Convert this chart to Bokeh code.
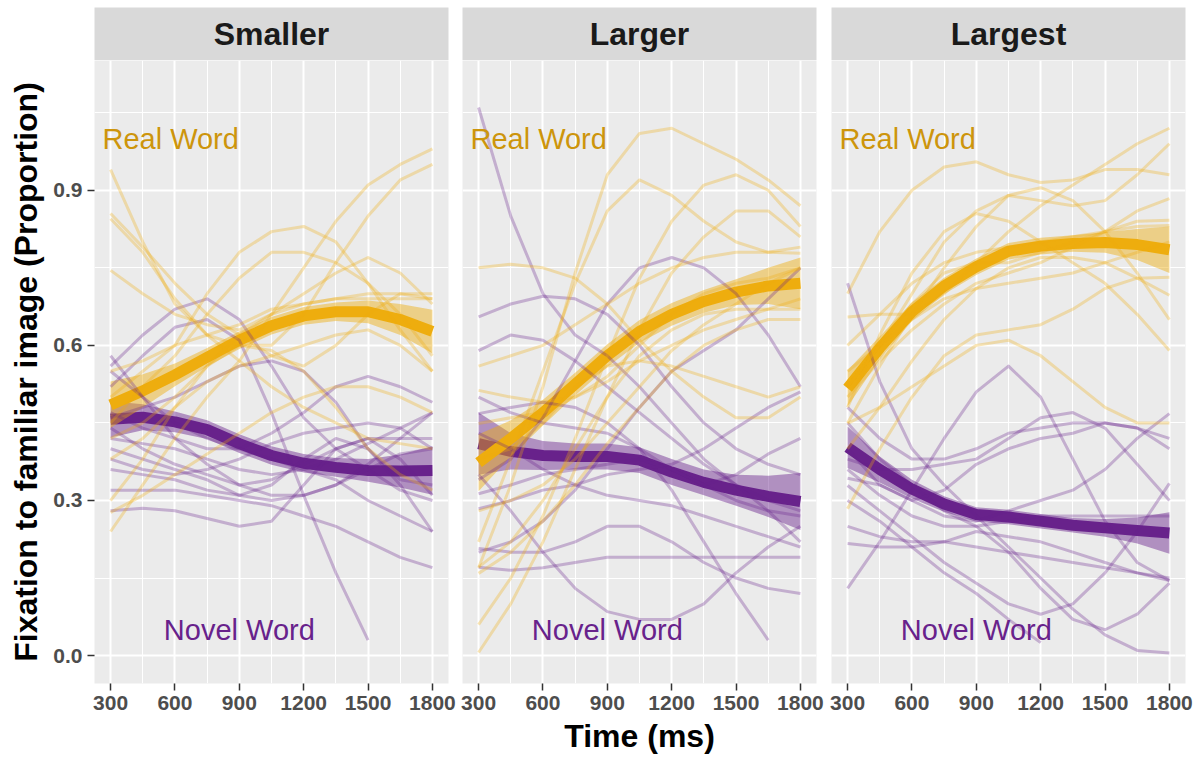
import math
from bokeh.plotting import figure
from bokeh.models import Range1d, FixedTicker, PrintfTickFormatter
from bokeh.layouts import row, column
from bokeh.embed import file_html
from bokeh.resources import INLINE
from bokeh.core.properties import value

NaN = float("nan")

# ---------------- data ----------------
time_ms = [300, 450, 600, 750, 900, 1050, 1200, 1350, 1500, 1650, 1800]
panel_titles = ["Smaller", "Larger", "Largest"]
x_ticks = [300, 600, 900, 1200, 1500, 1800]
y_ticks = [0.0, 0.3, 0.6, 0.9]

# group means (smooth) and ribbon half-widths
real_mean_smaller = [0.485, 0.512, 0.543, 0.577, 0.610, 0.638, 0.657, 0.665, 0.665, 0.650, 0.627]
real_ci_smaller = [0.045, 0.032, 0.022, 0.018, 0.017, 0.017, 0.017, 0.018, 0.022, 0.030, 0.042]
novel_mean_smaller = [0.457, 0.461, 0.452, 0.437, 0.410, 0.387, 0.372, 0.364, 0.358, 0.357, 0.358]
novel_ci_smaller = [0.035, 0.025, 0.020, 0.018, 0.018, 0.018, 0.018, 0.018, 0.022, 0.032, 0.047]

real_mean_larger = [0.373, 0.420, 0.470, 0.525, 0.580, 0.627, 0.660, 0.685, 0.703, 0.715, 0.720]
real_ci_larger = [0.055, 0.035, 0.025, 0.022, 0.022, 0.022, 0.022, 0.022, 0.025, 0.035, 0.050]
novel_mean_larger = [0.410, 0.395, 0.387, 0.385, 0.385, 0.378, 0.355, 0.335, 0.320, 0.308, 0.298]
novel_ci_larger = [0.060, 0.035, 0.028, 0.025, 0.025, 0.025, 0.025, 0.025, 0.030, 0.040, 0.055]

real_mean_largest = [0.517, 0.595, 0.665, 0.715, 0.752, 0.782, 0.792, 0.797, 0.799, 0.795, 0.785]
real_ci_largest = [0.035, 0.022, 0.018, 0.016, 0.016, 0.016, 0.016, 0.016, 0.020, 0.030, 0.045]
novel_mean_largest = [0.403, 0.360, 0.322, 0.293, 0.273, 0.268, 0.260, 0.252, 0.247, 0.242, 0.237]
novel_ci_largest = [0.040, 0.025, 0.018, 0.015, 0.014, 0.014, 0.014, 0.014, 0.017, 0.025, 0.040]

# individual participants
real_subjects_smaller = [
    [0.94, 0.80, 0.68, 0.62, 0.60, 0.60, 0.66, 0.76, 0.85, 0.92, 0.95],
    [0.855, 0.79, 0.72, 0.66, 0.62, 0.58, 0.56, 0.60, 0.66, 0.70, 0.69],
    [0.845, 0.78, 0.69, 0.62, 0.57, 0.52, 0.48, 0.45, 0.42, 0.41, 0.40],
    [0.745, 0.70, 0.66, 0.64, 0.63, 0.66, 0.70, 0.74, 0.77, 0.74, 0.68],
    [0.50, 0.55, 0.60, 0.70, 0.78, 0.82, 0.83, 0.80, 0.72, 0.63, 0.55],
    [0.45, 0.52, 0.58, 0.66, 0.73, 0.78, 0.78, 0.76, 0.72, 0.66, 0.58],
    [0.30, 0.38, 0.48, 0.56, 0.62, 0.66, 0.68, 0.69, 0.70, 0.70, 0.70],
    [0.24, 0.33, 0.42, 0.50, 0.57, 0.66, 0.75, 0.84, 0.91, 0.95, 0.98],
    [0.277, 0.31, 0.35, 0.39, 0.43, 0.47, 0.50, 0.52, 0.52, 0.50, 0.47],
    [0.42, 0.45, 0.50, 0.56, 0.60, 0.59, 0.55, 0.48, 0.40, 0.35, 0.32],
    [0.38, 0.42, 0.48, 0.53, 0.56, 0.58, 0.60, 0.62, 0.63, 0.60, 0.55],
    [0.55, 0.57, 0.60, 0.62, 0.64, 0.67, 0.68, 0.69, 0.69, 0.69, 0.69],
]
novel_subjects_smaller = [
    [0.58, 0.50, 0.42, 0.37, 0.33, 0.31, 0.31, 0.33, 0.37, 0.42, 0.47],
    [0.56, 0.62, 0.67, 0.69, 0.65, 0.56, 0.46, 0.40, 0.36, 0.32, 0.30],
    [0.52, 0.58, 0.635, 0.65, 0.61, 0.47, 0.31, 0.16, 0.03, NaN, NaN],
    [0.47, 0.44, 0.42, 0.40, 0.40, 0.43, 0.47, 0.52, 0.54, 0.52, 0.49],
    [0.44, 0.40, 0.37, 0.35, 0.33, 0.34, 0.37, 0.40, 0.42, 0.42, 0.42],
    [0.42, 0.41, 0.40, 0.38, 0.36, 0.35, 0.36, 0.38, 0.41, 0.44, 0.47],
    [0.40, 0.38, 0.36, 0.34, 0.31, 0.30, 0.31, 0.33, 0.36, 0.39, 0.40],
    [0.36, 0.35, 0.34, 0.32, 0.31, 0.33, 0.38, 0.42, 0.40, 0.33, 0.24],
    [0.32, 0.32, 0.32, 0.31, 0.30, 0.29, 0.27, 0.25, 0.22, 0.19, 0.17],
    [0.28, 0.285, 0.28, 0.265, 0.25, 0.26, 0.33, 0.40, 0.42, 0.38, 0.31],
    [0.55, 0.50, 0.45, 0.42, 0.40, 0.38, 0.36, 0.34, 0.30, 0.27, 0.24],
    [0.46, 0.48, 0.50, 0.53, 0.56, 0.57, 0.55, 0.49, 0.40, 0.34, 0.33],
    [0.38, 0.36, 0.35, 0.36, 0.38, 0.41, 0.43, 0.44, 0.45, 0.44, 0.40],
]

real_subjects_larger = [
    [0.75, 0.757, 0.75, 0.73, 0.68, 0.61, 0.55, 0.50, 0.46, 0.46, 0.50],
    [0.17, 0.33, 0.52, 0.74, 0.93, 1.01, 1.02, 0.99, 0.96, 0.92, 0.87],
    [0.22, 0.38, 0.55, 0.72, 0.86, 0.92, 0.89, 0.84, 0.80, 0.78, 0.778],
    [0.06, 0.15, 0.27, 0.42, 0.58, 0.73, 0.84, 0.91, 0.93, 0.90, 0.83],
    [0.006, 0.10, 0.22, 0.36, 0.50, 0.63, 0.74, 0.81, 0.86, 0.86, 0.81],
    [0.56, 0.58, 0.60, 0.64, 0.68, 0.72, 0.75, 0.77, 0.78, 0.78, 0.79],
    [0.513, 0.50, 0.49, 0.50, 0.54, 0.60, 0.66, 0.70, 0.72, 0.73, 0.75],
    [0.449, 0.46, 0.47, 0.50, 0.53, 0.57, 0.60, 0.63, 0.65, 0.67, 0.69],
    [0.171, 0.22, 0.30, 0.40, 0.50, 0.58, 0.63, 0.66, 0.67, 0.67, 0.67],
    [0.159, 0.20, 0.26, 0.33, 0.41, 0.48, 0.55, 0.60, 0.63, 0.65, 0.65],
    [0.38, 0.40, 0.45, 0.52, 0.56, 0.57, 0.56, 0.54, 0.52, 0.50, 0.52],
    [0.28, 0.30, 0.33, 0.38, 0.45, 0.52, 0.59, 0.64, 0.68, 0.72, 0.75],
]
novel_subjects_larger = [
    [1.06, 0.85, 0.70, 0.62, 0.58, 0.52, 0.45, 0.38, 0.33, 0.30, 0.28],
    [0.655, 0.68, 0.695, 0.69, 0.66, 0.60, 0.52, 0.45, 0.40, 0.37, 0.35],
    [0.59, 0.62, 0.61, 0.57, 0.52, 0.47, 0.42, 0.37, 0.33, 0.28, 0.22],
    [0.34, 0.38, 0.46, 0.57, 0.68, 0.75, 0.77, 0.75, 0.70, 0.62, 0.52],
    [0.20, 0.22, 0.26, 0.32, 0.40, 0.48, 0.55, 0.59, 0.63, 0.69, 0.75],
    [0.35, 0.28, 0.20, 0.13, 0.085, 0.07, 0.07, 0.10, 0.16, 0.21, 0.25],
    [0.468, 0.48, 0.49, 0.48, 0.45, 0.40, 0.32, 0.22, 0.12, 0.03, NaN],
    [0.313, 0.33, 0.35, 0.36, 0.37, 0.38, 0.36, 0.33, 0.30, 0.28, 0.27],
    [0.284, 0.30, 0.32, 0.33, 0.35, 0.36, 0.37, 0.40, 0.44, 0.48, 0.51],
    [0.207, 0.20, 0.20, 0.22, 0.25, 0.25, 0.22, 0.18, 0.15, 0.13, 0.12],
    [0.171, 0.165, 0.17, 0.18, 0.19, 0.19, 0.19, 0.19, 0.19, 0.19, 0.19],
    [0.43, 0.40, 0.36, 0.33, 0.31, 0.30, 0.29, 0.27, 0.25, 0.23, 0.21],
    [0.50, 0.47, 0.45, 0.44, 0.43, 0.40, 0.36, 0.33, 0.35, 0.39, 0.42],
]

real_subjects_largest = [
    [0.70, 0.82, 0.90, 0.945, 0.955, 0.93, 0.915, 0.92, 0.94, 0.94, 0.93],
    [0.655, 0.66, 0.66, 0.70, 0.76, 0.82, 0.87, 0.91, 0.95, 0.99, 1.02],
    [0.52, 0.60, 0.70, 0.80, 0.86, 0.89, 0.88, 0.87, 0.88, 0.93, 0.99],
    [0.48, 0.62, 0.74, 0.82, 0.855, 0.84, 0.80, 0.76, 0.72, 0.66, 0.59],
    [0.45, 0.56, 0.66, 0.75, 0.83, 0.89, 0.905, 0.88, 0.82, 0.74, 0.65],
    [0.52, 0.60, 0.68, 0.74, 0.76, 0.76, 0.78, 0.80, 0.82, 0.84, 0.842],
    [0.50, 0.57, 0.63, 0.68, 0.72, 0.74, 0.76, 0.79, 0.82, 0.86, 0.884],
    [0.55, 0.60, 0.65, 0.69, 0.71, 0.72, 0.73, 0.74, 0.76, 0.78, 0.80],
    [0.284, 0.40, 0.50, 0.58, 0.62, 0.63, 0.64, 0.67, 0.71, 0.73, 0.732],
    [0.449, 0.48, 0.52, 0.56, 0.60, 0.61, 0.58, 0.53, 0.48, 0.45, 0.45],
    [0.40, 0.48, 0.57, 0.65, 0.71, 0.75, 0.77, 0.77, 0.76, 0.73, 0.697],
    [0.60, 0.66, 0.72, 0.76, 0.78, 0.79, 0.80, 0.81, 0.82, 0.83, 0.832],
]
novel_subjects_largest = [
    [0.72, 0.53, 0.40, 0.33, 0.27, 0.21, 0.15, 0.09, 0.04, 0.01, 0.005],
    [0.13, 0.22, 0.32, 0.42, 0.51, 0.56, 0.50, 0.38, 0.26, 0.18, 0.145],
    [0.343, 0.33, 0.30, 0.27, 0.26, 0.28, 0.30, 0.32, 0.36, 0.42, 0.468],
    [0.329, 0.28, 0.23, 0.18, 0.14, 0.10, 0.08, 0.10, 0.16, 0.24, 0.333],
    [0.30, 0.26, 0.21, 0.16, 0.12, 0.07, 0.025, NaN, NaN, NaN, NaN],
    [0.217, 0.21, 0.21, 0.22, 0.24, 0.23, 0.22, 0.20, 0.18, 0.16, 0.145],
    [0.45, 0.38, 0.33, 0.28, 0.25, 0.20, 0.13, 0.07, 0.05, 0.08, 0.14],
    [0.48, 0.42, 0.38, 0.38, 0.40, 0.43, 0.44, 0.45, 0.45, 0.44, 0.42],
    [0.38, 0.36, 0.36, 0.37, 0.38, 0.42, 0.46, 0.47, 0.44, 0.37, 0.30],
    [0.40, 0.33, 0.30, 0.32, 0.37, 0.40, 0.42, 0.43, 0.45, 0.44, 0.40],
    [0.36, 0.31, 0.27, 0.25, 0.25, 0.26, 0.27, 0.27, 0.27, 0.27, 0.27],
    [0.25, 0.23, 0.22, 0.22, 0.21, 0.20, 0.19, 0.18, 0.17, 0.16, 0.15],
]

label_real = "Real Word"
label_novel = "Novel Word"
label_real_pos = (580, 1.0)
label_novel_pos = (900, 0.05)

# ---------------- styling ----------------
GOLD = "#EEAD0E"
GOLD_TXT = "#CD950C"
PURPLE = "#68228B"
PANEL_BG = "#EBEBEB"
STRIP_BG = "#D9D9D9"
FONT = "Liberation Sans"

FRAME_W = 354
FRAME_H = 623
STRIP_H = 53

panels_data = [
    (real_mean_smaller, real_ci_smaller, novel_mean_smaller, novel_ci_smaller,
     real_subjects_smaller, novel_subjects_smaller),
    (real_mean_larger, real_ci_larger, novel_mean_larger, novel_ci_larger,
     real_subjects_larger, novel_subjects_larger),
    (real_mean_largest, real_ci_largest, novel_mean_largest, novel_ci_largest,
     real_subjects_largest, novel_subjects_largest),
]

borders = [(94, 10), (4, 9), (6, 12)]

cols = []
for i, (title, pdata, (bl, br)) in enumerate(zip(panel_titles, panels_data, borders)):
    rm, rci, nm, nci, rsub, nsub = pdata

    # strip
    s = figure(frame_width=FRAME_W, frame_height=STRIP_H, x_range=Range1d(0, 1), y_range=Range1d(0, 1),
               x_axis_location=None, y_axis_location=None, toolbar_location=None,
               output_backend="svg", min_border_left=bl, min_border_right=br,
               min_border_top=7, min_border_bottom=0)
    s.background_fill_color = STRIP_BG
    s.border_fill_color = "white"
    s.outline_line_color = None
    s.grid.visible = False
    s.text(x=[0.5], y=[0.5], text=[title], text_align="center", text_baseline="middle",
           text_font=value(FONT), text_font_style="bold", text_font_size="32px", text_color="#1A1A1A")

    p = figure(frame_width=FRAME_W, frame_height=FRAME_H,
               x_range=Range1d(225, 1875), y_range=Range1d(-0.054, 1.151),
               y_axis_location="left" if i == 0 else None,
               toolbar_location=None, output_backend="svg",
               min_border_left=bl, min_border_right=br, min_border_top=0, min_border_bottom=72)
    p.background_fill_color = PANEL_BG
    p.border_fill_color = "white"
    p.outline_line_color = None

    xt = FixedTicker(ticks=x_ticks, minor_ticks=[450, 750, 1050, 1350, 1650])
    yt = FixedTicker(ticks=y_ticks, minor_ticks=[0.15, 0.45, 0.75, 1.05])
    p.xaxis.ticker = xt
    p.xgrid.ticker = xt
    p.ygrid.ticker = yt
    for g in (p.xgrid, p.ygrid):
        g.grid_line_color = "white"
        g.grid_line_width = 2
        g.minor_grid_line_color = "white"
        g.minor_grid_line_width = 1

    ax = p.xaxis[0]
    ax.axis_line_color = None
    ax.major_tick_line_color = "#333333"
    ax.major_tick_line_width = 1.5
    ax.major_tick_out = 7
    ax.major_tick_in = 0
    ax.minor_tick_out = 0
    ax.minor_tick_in = 0
    ax.major_label_standoff = 5
    ax.major_label_text_font = FONT
    ax.major_label_text_font_style = "bold"
    ax.major_label_text_font_size = "21px"
    ax.major_label_text_color = "#4D4D4D"
    if i == 1:
        ax.axis_label = "Time (ms)"
        ax.axis_label_text_font = FONT
        ax.axis_label_text_font_style = "bold"
        ax.axis_label_text_font_size = "32px"
        ax.axis_label_text_color = "black"
        ax.axis_label_standoff = 5

    if i == 0:
        ay = p.yaxis[0]
        ay.ticker = yt
        ay.formatter = PrintfTickFormatter(format="%.1f")
        ay.axis_line_color = None
        ay.major_tick_line_color = "#333333"
        ay.major_tick_line_width = 1.5
        ay.major_tick_out = 7
        ay.major_tick_in = 0
        ay.minor_tick_out = 0
        ay.minor_tick_in = 0
        ay.major_label_standoff = 5
        ay.major_label_text_font = FONT
        ay.major_label_text_font_style = "bold"
        ay.major_label_text_font_size = "21px"
        ay.major_label_text_color = "#4D4D4D"
        ay.axis_label = "Fixation to familiar image (Proportion)"
        ay.axis_label_text_font = FONT
        ay.axis_label_text_font_style = "bold"
        ay.axis_label_text_font_size = "32px"
        ay.axis_label_text_color = "black"
        ay.axis_label_standoff = 6

    # smooth: novel first, then real
    p.varea(x=time_ms, y1=[m - c for m, c in zip(nm, nci)], y2=[m + c for m, c in zip(nm, nci)],
            fill_color=PURPLE, fill_alpha=0.45)
    p.line(time_ms, nm, line_color=PURPLE, line_width=11, line_join="round")
    p.varea(x=time_ms, y1=[m - c for m, c in zip(rm, rci)], y2=[m + c for m, c in zip(rm, rci)],
            fill_color=GOLD, fill_alpha=0.45)
    p.line(time_ms, rm, line_color=GOLD, line_width=11, line_join="round")

    # individual participants
    for ys in nsub:
        p.line(time_ms, ys, line_color=PURPLE, line_alpha=0.3, line_width=3, line_join="round")
    for ys in rsub:
        p.line(time_ms, ys, line_color=GOLD, line_alpha=0.3, line_width=3, line_join="round")

    p.text(x=[label_real_pos[0]], y=[label_real_pos[1]], text=[label_real], text_align="center",
           text_baseline="middle", text_font=value(FONT), text_font_size="29px", text_color=GOLD_TXT)
    p.text(x=[label_novel_pos[0]], y=[label_novel_pos[1]], text=[label_novel], text_align="center",
           text_baseline="middle", text_font=value(FONT), text_font_size="29px", text_color=PURPLE)

    cols.append(column(s, p))

layout = row(*cols)
open("out.html", "w").write(file_html(layout, INLINE))
